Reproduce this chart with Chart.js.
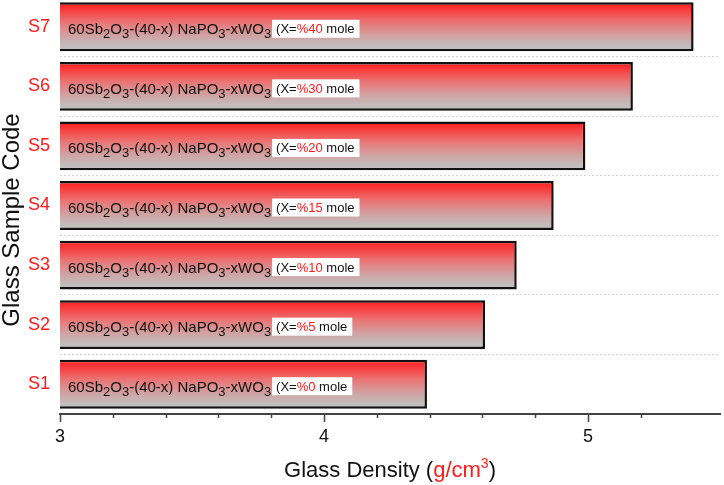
<!DOCTYPE html>
<html>
<head>
<meta charset="utf-8">
<script src="https://cdn.jsdelivr.net/npm/chart.js@4"></script>
<style>
  body { margin: 0; background: #fff; overflow: hidden; }
  #wrap { width: 724px; height: 488px; margin-top: -3px; }
</style>
</head>
<body>
<div id="wrap"><canvas id="densityChart"></canvas></div>
<script>
// Data
const sampleCodes = ['S1', 'S2', 'S3', 'S4', 'S5', 'S6', 'S7'];
const densities = [4.39, 4.61, 4.73, 4.87, 4.99, 5.17, 5.40]; // g/cm3
const wo3Mole = ['0', '5', '10', '15', '20', '30', '40'];     // x in mole %
// composition formula, pieces flagged as subscript
const formulaParts = [['60Sb', false], ['2', true], ['O', false], ['3', true],
                      ['-(40-x) NaPO', false], ['3', true], ['-xWO', false], ['3', true]];

const FONT = '"Liberation Sans", Arial, sans-serif';
const BAR_PCT = 0.82;

function isMajor(v) {
    return Math.abs(v - Math.round(v)) < 1e-6;
}

// red to grey fill, one gradient per bar
function barGradient(context) {
    const chart = context.chart;
    const area = chart.chartArea;
    if (!area || context.type !== 'data') return '#f44';
    const yScale = chart.scales.y;
    const center = yScale.getPixelForValue(context.dataIndex);
    const half = (area.bottom - area.top) / sampleCodes.length * BAR_PCT / 2;
    const g = chart.ctx.createLinearGradient(0, center - half, 0, center + half);
    g.addColorStop(0, '#ff1a1a');
    g.addColorStop(0.4, '#eb7373');
    g.addColorStop(0.7, '#cfa5a5');
    g.addColorStop(0.9, '#c2bdbd');
    g.addColorStop(1, '#c0c0c0');
    return g;
}

// formula + white "(X=%.. mole" box inside bars, minor ticks, axis titles
const extras = {
    id: 'extras',
    afterDraw(chart) {
        const ctx = chart.ctx;
        const area = chart.chartArea;
        const xs = chart.scales.x;
        const ys = chart.scales.y;
        ctx.save();
        ctx.textBaseline = 'alphabetic';
        ctx.textAlign = 'left';

        sampleCodes.forEach((code, i) => {
            const cy = ys.getPixelForValue(i) + 2;
            let x = area.left + 8;
            const baseline = cy + 5.5;
            ctx.fillStyle = '#111';
            formulaParts.forEach(([txt, sub]) => {
                ctx.font = (sub ? '13px ' : '15px ') + FONT;
                ctx.fillText(txt, x, sub ? baseline + 4 : baseline);
                x += ctx.measureText(txt).width;
            });

            ctx.font = '13px ' + FONT;
            const pieces = [['(X=', '#111'], ['%' + wo3Mole[i], '#ff1a1a'], [' mole', '#111']];
            let w = 0;
            pieces.forEach(p => { w += ctx.measureText(p[0]).width; });
            const bx = x + 1;
            ctx.fillStyle = '#fff';
            ctx.fillRect(bx, cy - 9, w + 9, 18);
            let tx = bx + 4;
            pieces.forEach(([txt, col]) => {
                ctx.fillStyle = col;
                ctx.fillText(txt, tx, cy + 4.5);
                tx += ctx.measureText(txt).width;
            });
        });

        // minor ticks
        ctx.strokeStyle = '#444';
        ctx.lineWidth = 1.5;
        xs.ticks.forEach(t => {
            const v = t.value;
            if (isMajor(v) || Math.abs(v * 5 - Math.round(v * 5)) > 1e-6) return;
            const px = Math.round(xs.getPixelForValue(v)) + 0.5;
            ctx.beginPath();
            ctx.moveTo(px, xs.top);
            ctx.lineTo(px, xs.top + 4);
            ctx.stroke();
        });

        // x title "Glass Density (g/cm3)"
        const parts = [['Glass Density (', '#111', 22, 0], ['g/cm', '#ff1a1a', 22, 0],
                       ['3', '#ff1a1a', 14, -9], [')', '#111', 22, 0]];
        let total = 0;
        parts.forEach(p => { ctx.font = p[2] + 'px ' + FONT; total += ctx.measureText(p[0]).width; });
        let x = (xs.left + xs.right) / 2 - total / 2;
        parts.forEach(([txt, col, size, dy]) => {
            ctx.font = size + 'px ' + FONT;
            ctx.fillStyle = col;
            ctx.fillText(txt, x, xs.top + 63 + dy);
            x += ctx.measureText(txt).width;
        });

        // y title
        ctx.translate(19, 223);
        ctx.rotate(-Math.PI / 2);
        ctx.font = '24px ' + FONT;
        ctx.fillStyle = '#111';
        ctx.textAlign = 'center';
        ctx.fillText('Glass Sample Code', 0, 0);
        ctx.restore();
    }
};

document.addEventListener('DOMContentLoaded', function () {
    const ctx = document.getElementById('densityChart').getContext('2d');
    new Chart(ctx, {
        type: 'bar',
        data: {
            labels: sampleCodes,
            datasets: [{
                label: 'Glass Density',
                data: densities,
                backgroundColor: barGradient,
                borderColor: '#111',
                borderWidth: 2.5,
                borderSkipped: false,
                barPercentage: BAR_PCT,
                categoryPercentage: 1
            }]
        },
        options: {
            indexAxis: 'y',
            responsive: true,
            maintainAspectRatio: false,
            animation: false,
            layout: { padding: { top: 0, right: 1, left: 0, bottom: 0 } },
            plugins: {
                legend: { display: false },
                tooltip: { enabled: false }
            },
            scales: {
                x: {
                    type: 'linear',
                    min: 3,
                    max: 5.5,
                    afterFit(scale) { scale.height = 71; },
                    border: { display: true, color: '#444', width: 2 },
                    grid: {
                        drawOnChartArea: false,
                        drawTicks: true,
                        tickLength: 8,
                        tickWidth: 1.5,
                        tickColor: c => (c.tick && isMajor(c.tick.value)) ? '#444' : 'rgba(0,0,0,0)'
                    },
                    ticks: {
                        stepSize: 0.2,
                        autoSkip: false,
                        maxRotation: 0,
                        padding: 4,
                        color: '#111',
                        font: { family: FONT, size: 18 },
                        callback: v => isMajor(v) ? String(Math.round(v)) : ''
                    }
                },
                y: {
                    reverse: true,
                    offset: true,
                    afterFit(scale) {
                        scale.width = 60;
                        scale.paddingTop = 0;
                        scale.paddingBottom = 0;
                    },
                    border: { display: false, dash: [2, 2] },
                    grid: {
                        offset: true,
                        drawTicks: false,
                        color: '#d4d4d4',
                        lineWidth: 1
                    },
                    ticks: {
                        padding: 10,
                        color: '#ff1a1a',
                        font: { family: FONT, size: 18 }
                    }
                }
            }
        },
        plugins: [extras]
    });
});
</script>
</body>
</html>
